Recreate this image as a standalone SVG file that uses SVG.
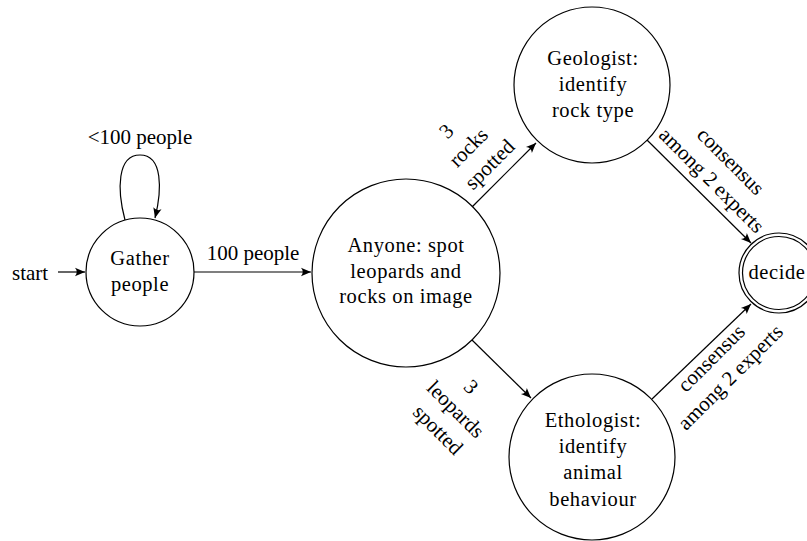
<svg xmlns="http://www.w3.org/2000/svg" width="807" height="541" viewBox="0 0 807 541" font-family="Liberation Serif, DejaVu Serif, serif">
<style>
  .node { fill: none; stroke: #000; stroke-width: 1.2; }
  .edge { fill: none; stroke: #000; stroke-width: 1.2; marker-end: url(#arr); }
  .t { font-size: 20.5px; fill: #000; text-anchor: middle; letter-spacing: 0.6px; }
  .l { font-size: 21px; fill: #000; text-anchor: middle; }
</style>
<defs>
  <marker id="arr" viewBox="-11 -5 12 10" refX="0" refY="0" markerWidth="12" markerHeight="10" markerUnits="userSpaceOnUse" orient="auto">
    <path d="M0,0 L-10,-4.2 Q-6.5,0 -10,4.2 Z" fill="#000"/>
  </marker>
</defs>
<rect width="807" height="541" fill="#fff"/>
<g id="connectors">
  <path class="edge" d="M58,272 L85,272"/>
  <path class="edge" d="M125,220 C117,190 117,155 140,155 C163,155 162,190 155,218"/>
  <path class="edge" d="M194,272 L311,272"/>
  <path class="edge" d="M472,207 L536,143"/>
  <path class="edge" d="M472,340 L531,398"/>
  <path class="edge" d="M647,140 L751,243"/>
  <path class="edge" d="M652,399 L751,304"/>
  <text class="l" x="12" y="280" text-anchor="start" style="text-anchor:start">start</text>
  <text class="l" x="140" y="144">&lt;100 people</text>
  <text class="l" x="253" y="260">100 people</text>
  <g transform="translate(469,148) rotate(-45)">
    <text class="l" x="-4" y="-21">3</text>
    <text class="l" x="0" y="6">rocks</text>
    <text class="l" x="3" y="33">spotted</text>
  </g>
  <g transform="translate(455,410) rotate(45)">
    <text class="l" x="-5" y="-21">3</text>
    <text class="l" x="0" y="6">leopards</text>
    <text class="l" x="2" y="33">spotted</text>
  </g>
  <g transform="translate(721,171) rotate(45)">
    <text class="l" x="0" y="-7">consensus</text>
    <text class="l" x="0" y="20">among 2 experts</text>
  </g>
  <g transform="translate(721,368) rotate(-45)">
    <text class="l" x="0" y="-7">consensus</text>
    <text class="l" x="0" y="20">among 2 experts</text>
  </g>
</g>
<g id="gather">
  <circle class="node" cx="140" cy="272" r="54"/>
  <text class="t" x="140" y="265">Gather</text>
  <text class="t" x="140" y="291">people</text>
</g>
<g id="anyone">
  <circle class="node" cx="406" cy="273" r="94"/>
  <text class="t" x="406" y="252">Anyone: spot</text>
  <text class="t" x="406" y="277.5">leopards and</text>
  <text class="t" x="406" y="303">rocks on image</text>
</g>
<g id="geologist">
  <circle class="node" cx="592" cy="85" r="78"/>
  <text class="t" x="593" y="65">Geologist:</text>
  <text class="t" x="593" y="91">identify</text>
  <text class="t" x="593" y="117">rock type</text>
</g>
<g id="ethologist">
  <circle class="node" cx="592" cy="457" r="83"/>
  <text class="t" x="593" y="427">Ethologist:</text>
  <text class="t" x="593" y="453">identify</text>
  <text class="t" x="593" y="479">animal</text>
  <text class="t" x="593" y="505.5">behaviour</text>
</g>
<g id="decide">
  <circle class="node" cx="779" cy="273" r="40"/>
  <circle class="node" cx="779" cy="273" r="36.5"/>
  <text class="t" x="777" y="279">decide</text>
</g>
</svg>
